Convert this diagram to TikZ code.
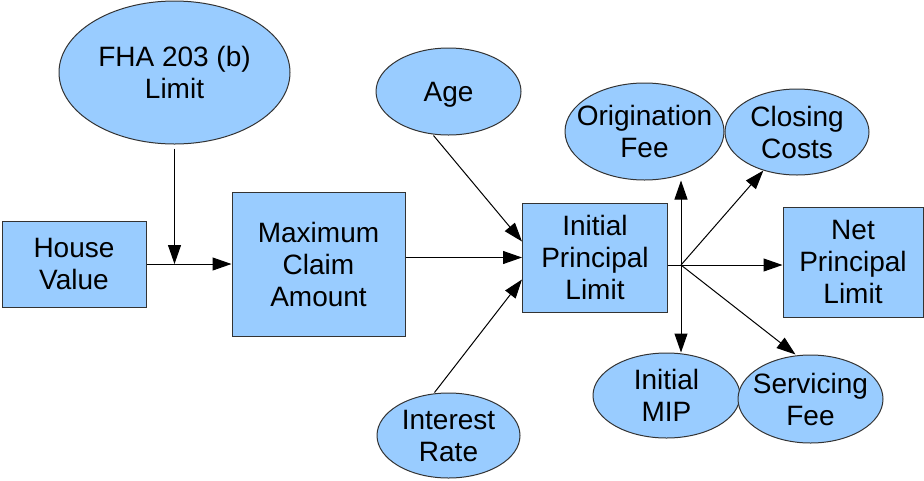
\documentclass[tikz,border=0pt]{standalone}
\usepackage{fontspec}
\setmainfont{Liberation Sans}
\usetikzlibrary{arrows.meta, shapes.geometric}
\definecolor{nodeblue}{HTML}{99CCFF}
\definecolor{edgegray}{HTML}{333333}

\begin{document}
\begin{tikzpicture}[
    x=1pt, y=-1pt,
    line width=1pt,
    font=\fontsize{28}{32}\selectfont,
    every label/.style={align=center},
    box/.style={rectangle, fill=nodeblue, draw=edgegray, align=center, inner sep=0pt},
    ell/.style={ellipse, fill=nodeblue, draw=edgegray, inner sep=0pt},
    arr/.style={black, -{Triangle[length=19pt, width=13pt]}},
    lin/.style={black},
  ]
  \useasboundingbox (0,0) rectangle (924,480);

  \node[box, minimum width=144pt, minimum height=86pt] (hv) at (74,264) {House\\Value};
  \node[box, minimum width=173pt, minimum height=144pt] (mca) at (318.5,264) {Maximum\\Claim\\Amount};
  \node[box, minimum width=145pt, minimum height=109pt] (ipl) at (595,257.5) {Initial\\Principal\\Limit};
  \node[box, minimum width=140pt, minimum height=110pt] (npl) at (853,262) {Net\\Principal\\Limit};

  \node[ell, minimum width=231pt, minimum height=143pt, label={center:FHA 203 (b)\\Limit}] (fha) at (174.5,72.5) {};
  \node[ell, minimum width=145pt, minimum height=87pt, label={[yshift=-3pt]center:Age}] (age) at (448.5,91.5) {};
  \node[ell, minimum width=143pt, minimum height=85pt, label={center:Interest\\Rate}] (ir) at (448.5,435.5) {};
  \node[ell, minimum width=159pt, minimum height=97pt, label={center:Origination\\Fee}] (orig) at (644.5,131.5) {};
  \node[ell, minimum width=144pt, minimum height=86pt, label={center:Closing\\Costs}] (close) at (797,132) {};
  \node[ell, minimum width=147pt, minimum height=85pt, label={center:Initial\\MIP}] (mip) at (666.5,395.5) {};
  \node[ell, minimum width=145pt, minimum height=88pt, label={center:Servicing\\Fee}] (serv) at (810.5,399) {};

  \coordinate (hub) at (681,265);

  \draw[arr] (hv) -- (mca);
  \draw[arr] ([yshift=-4pt]fha.south) -- (fha.south |- hv.east);
  \draw[arr] (ipl.west -| mca.east) -- (ipl.west);
  \draw[arr] ([xshift=-15pt]age.south) -- ([yshift=16pt]ipl.west);
  \draw[arr] ([xshift=-14pt]ir.north) -- ([yshift=-22pt]ipl.west);

  \draw[lin] (ipl.east |- hub) -- (hub);
  \draw[arr] (hub) -- (hub |- orig.south);
  \draw[arr] (hub) -- (hub |- mip.north);
  \draw[arr] (hub) -- (close);
  \draw[arr] (hub) -- (hub -| npl.west);
  \draw[arr] (hub) -- ([xshift=-15pt]serv.north);

\end{tikzpicture}
\end{document}
